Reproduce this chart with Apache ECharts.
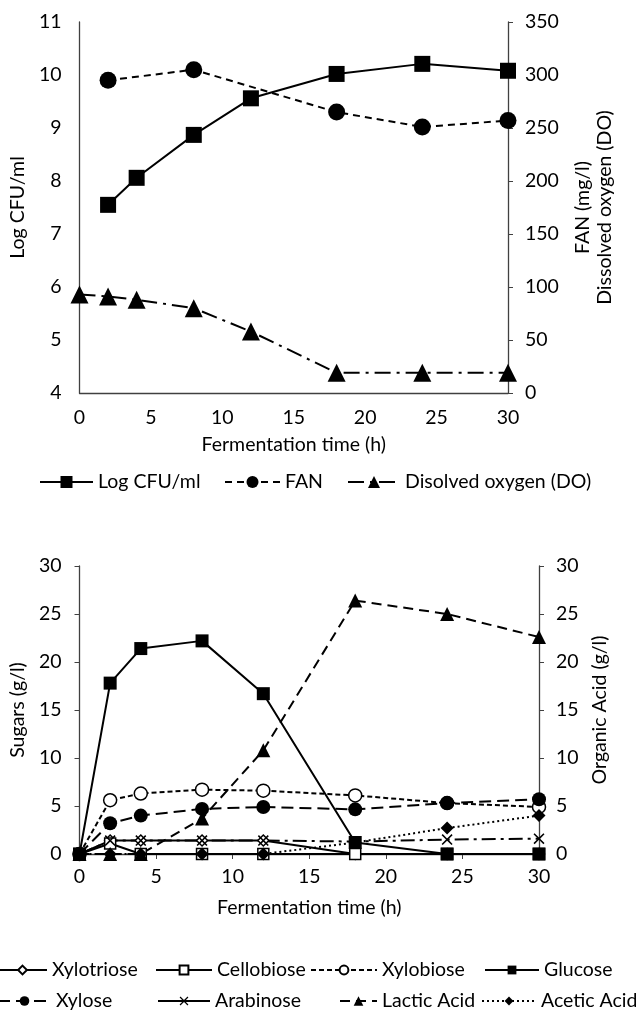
<!DOCTYPE html>
<html>
<head>
<meta charset="utf-8">
<script src="https://cdn.jsdelivr.net/npm/echarts@6/dist/echarts.min.js"></script>
<style>
html,body{margin:0;padding:0;background:#fff;}
#chart{width:636px;height:1010px;}
</style>
</head>
<body>
<div id="chart"></div>
<script>
// ---- Top chart data ----
const timeTop = [0, 2, 4, 8, 12, 18, 24, 30];
const logCFU = [null, 7.55, 8.06, 8.87, 9.56, 10.02, 10.21, 10.08];
const fan = [null, 295, null, 305, null, 265, 251, 257];
const dissolvedOxygen = [93, 91, 88, 80, 58, 19, 19, 19];

// ---- Bottom chart data ----
const timeBottom = [0, 2, 4, 8, 12, 18, 24, 30];
const xylotriose = [0, 1.4, 1.4, 1.4, 1.4, 0, 0, 0];
const cellobiose = [0, 1.1, 0, 0, 0, 0, 0, 0];
const xylobiose = [0, 5.6, 6.3, 6.7, 6.6, 6.1, 5.3, 4.9];
const glucose = [0, 17.8, 21.4, 22.2, 16.7, 1.2, 0, 0];
const xylose = [0, 3.2, 4.0, 4.7, 4.9, 4.65, 5.3, 5.7];
const arabinose = [0, 1.4, 1.4, 1.4, 1.4, 1.3, 1.5, 1.6];
const lacticAcid = [0, 0, 0, 3.7, 10.8, 26.4, 25.0, 22.6];
const aceticAcid = [0, 0, 0, 0, 0, 1.2, 2.7, 4.0];

const FONT = 'Lato';
const FS = 19.5;
const AX = '#404040';

function pairs(xs, ys) {
  const out = [];
  xs.forEach((x, i) => { if (ys[i] !== null && ys[i] !== undefined) out.push([x, ys[i]]); });
  return out;
}
const X_PATH = 'path://M1,0 L5,4 L9,0 L10,1 L6,5 L10,9 L9,10 L5,6 L1,10 L0,9 L4,5 L0,1 Z';

const txt = {color: '#000', fontFamily: FONT, fontSize: FS};

function lineSeries(name, data, xi, yi, lineType, symbol, size, filled) {
  return {
    name, type: 'line', xAxisIndex: xi, yAxisIndex: yi, data,
    symbol, symbolSize: size, showSymbol: true,
    lineStyle: {color: '#000', width: 2, type: lineType},
    itemStyle: filled ? {color: '#000', borderWidth: 0} : {color: '#fff', borderColor: '#000', borderWidth: 1.5},
    emphasis: {disabled: true}, animation: false, z: 2
  };
}

function legendAt(name, left, top, w, h, extra) {
  return Object.assign({
    data: [name], left, top, itemWidth: w, itemHeight: h, itemGap: 0,
    textStyle: {color: '#000', fontFamily: FONT, fontSize: FS},
    selectedMode: false, padding: 0
  }, extra || {});
}

const option = {
  backgroundColor: '#fff',
  animation: false,
  grid: [
    {left: 75, right: 128, top: 22, bottom: 617, containLabel: false},
    {left: 79, right: 97, top: 566, bottom: 156, containLabel: false}
  ],
  xAxis: [
    {
      gridIndex: 0, type: 'value', min: 0, max: 30, interval: 5,
      axisLine: {lineStyle: {color: AX, width: 1.3}},
      axisTick: {show: false}, splitLine: {show: false},
      axisLabel: Object.assign({margin: 15}, txt),
      name: 'Fermentation time (h)', nameLocation: 'middle', nameGap: 42, nameTextStyle: txt
    },
    {
      gridIndex: 1, type: 'value', min: 0, max: 30, interval: 5,
      axisLine: {lineStyle: {color: AX, width: 1.3}},
      axisTick: {show: true, inside: false, length: 5, lineStyle: {color: AX}}, splitLine: {show: false},
      axisLabel: Object.assign({margin: 13}, txt),
      name: 'Fermentation time (h)', nameLocation: 'middle', nameGap: 44, nameTextStyle: txt
    }
  ],
  yAxis: [
    {
      gridIndex: 0, type: 'value', min: 4, max: 11, interval: 1, position: 'left',
      axisLine: {show: true, lineStyle: {color: AX, width: 1.3}},
      axisTick: {show: false}, splitLine: {show: false},
      axisLabel: Object.assign({margin: 18}, txt),
      name: 'Log CFU/ml', nameLocation: 'middle', nameGap: 40, nameTextStyle: txt
    },
    {
      gridIndex: 0, type: 'value', min: 0, max: 350, interval: 50, position: 'right',
      axisLine: {show: true, lineStyle: {color: AX, width: 1.3}},
      axisTick: {show: true, inside: false, length: 5, lineStyle: {color: AX}}, splitLine: {show: false},
      axisLabel: Object.assign({margin: 17}, txt),
      name: 'FAN (mg/l)\nDissolved oxygen (DO)', nameLocation: 'middle', nameGap: 64,
      nameTextStyle: Object.assign({lineHeight: 22, align: 'center'}, txt)
    },
    {
      gridIndex: 1, type: 'value', min: 0, max: 30, interval: 5, position: 'left',
      axisLine: {show: true, lineStyle: {color: AX, width: 1.3}},
      axisTick: {show: true, inside: false, length: 5, lineStyle: {color: AX}}, splitLine: {show: false},
      axisLabel: Object.assign({margin: 18}, txt),
      name: 'Sugars (g/l)', nameLocation: 'middle', nameGap: 41, nameTextStyle: txt
    },
    {
      gridIndex: 1, type: 'value', min: 0, max: 30, interval: 5, position: 'right',
      axisLine: {show: true, lineStyle: {color: AX, width: 1.3}},
      axisTick: {show: true, inside: false, length: 5, lineStyle: {color: AX}}, splitLine: {show: false},
      axisLabel: Object.assign({margin: 17}, txt),
      name: 'Organic Acid (g/l)', nameLocation: 'middle', nameGap: 48, nameTextStyle: txt
    }
  ],
  legend: [
    legendAt('Log CFU/ml', 39, 472, 53, 15),
    legendAt('FAN', 224, 472, 55, 15),
    legendAt('Disolved oxygen (DO)', 347, 472, 52, 15),
    legendAt('Xylotriose', -3, 960, 49, 11),
    legendAt('Cellobiose', 155, 960, 56, 11),
    legendAt('Xylobiose', 310, 960, 66, 11),
    legendAt('Glucose', 484, 960, 54, 11),
    legendAt('Xylose', -3, 991, 53, 12),
    legendAt('Arabinose', 157, 991, 52, 11, {lineStyle: {type: 'solid'}}),
    legendAt('Lactic Acid', 339, 991, 37, 12),
    legendAt('Acetic Acid', 481, 991, 54, 11)
  ],
  series: [
    lineSeries('Log CFU/ml', pairs(timeTop, logCFU), 0, 0, 'solid', 'rect', 16, true),
    lineSeries('FAN', pairs(timeTop, fan), 0, 1, [7, 5], 'circle', 17, true),
    lineSeries('Disolved oxygen (DO)', pairs(timeTop, dissolvedOxygen), 0, 1, [16, 6, 3, 6], 'triangle', 18, true),

    lineSeries('Xylotriose', pairs(timeBottom, xylotriose), 1, 2, 'solid', 'diamond', 11, false),
    lineSeries('Cellobiose', pairs(timeBottom, cellobiose), 1, 2, 'solid', 'rect', 11, false),
    lineSeries('Xylobiose', pairs(timeBottom, xylobiose), 1, 2, [5, 3], 'circle', 13, false),
    lineSeries('Glucose', pairs(timeBottom, glucose), 1, 2, 'solid', 'rect', 13, true),
    lineSeries('Xylose', pairs(timeBottom, xylose), 1, 2, [12, 6], 'circle', 14, true),
    lineSeries('Arabinose', pairs(timeBottom, arabinose), 1, 2, [14, 5, 3, 5], X_PATH, 11, true),
    lineSeries('Lactic Acid', pairs(timeBottom, lacticAcid), 1, 3, [10, 6], 'triangle', 14, true),
    lineSeries('Acetic Acid', pairs(timeBottom, aceticAcid), 1, 3, [2, 3], 'diamond', 13, true)
  ]
};

const chart = echarts.init(document.getElementById('chart'), null, {renderer: 'canvas'});
chart.setOption(option);
</script>
</body>
</html>
